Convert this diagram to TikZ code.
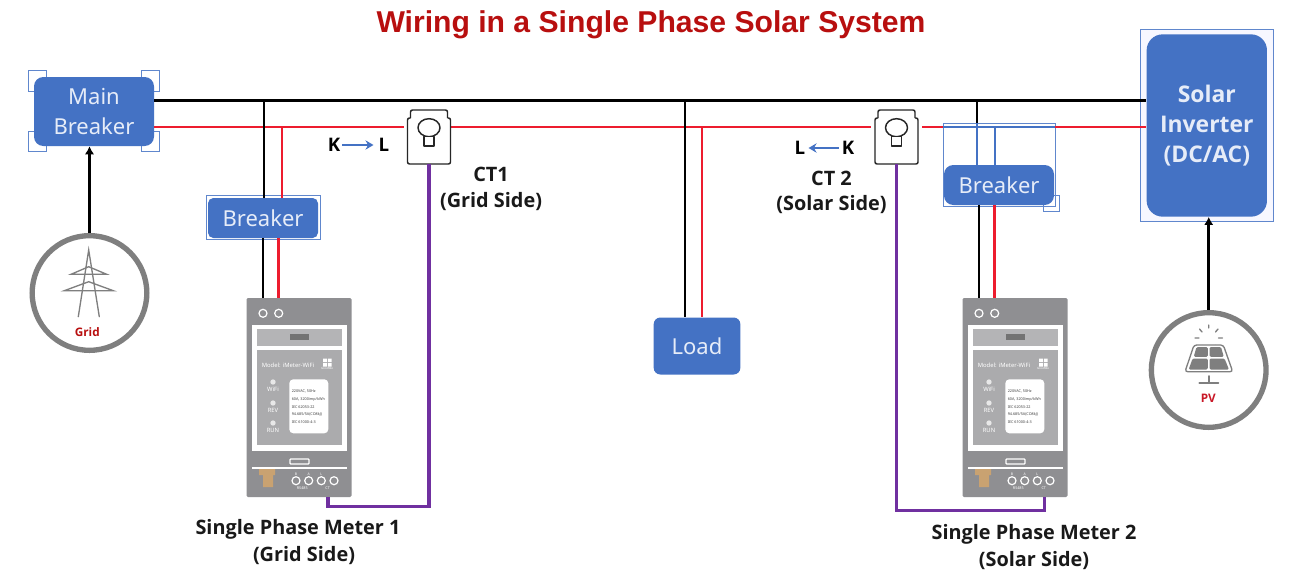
\documentclass[tikz,border=0pt]{standalone}
\usepackage{fontspec}
\setmainfont{Noto Sans}
\newfontfamily\titlefont{Liberation Sans}
\newfontfamily\boldfont{Open Sans}[BoldFont={Open Sans Bold}]
\usetikzlibrary{arrows.meta,calc,shapes.geometric}
\definecolor{boxblue}{HTML}{4472C4}
\definecolor{boxtext}{HTML}{E6ECF8}
\definecolor{wirered}{HTML}{ED1C2E}
\definecolor{wirepurple}{HTML}{7030A0}
\definecolor{titlered}{HTML}{B80F0F}
\definecolor{ringgray}{HTML}{7F7F7F}
\definecolor{metergray}{HTML}{8F8F92}
\definecolor{panelgray}{HTML}{B4B4B6}
\definecolor{panelgrayb}{HTML}{ABABAD}
\definecolor{iconsub}{HTML}{E8E8E8}
\definecolor{tan}{HTML}{C9A271}
\newcommand{\fs}[1]{\fontsize{#1}{#1}\selectfont}
\tikzset{
  bluebox/.style={draw=none,fill=boxblue,text=boxtext,rounded corners=7pt,align=center,inner sep=0pt,font=\fs{16.5}},
  selframe/.style={draw=boxblue!85!white,line width=0.6pt},
  blackwire/.style={draw=black,line width=1.6pt},
  redwire/.style={draw=wirered,line width=1.9pt},
  blueline/.style={draw=boxblue,line width=1.8pt},
  purplewire/.style={draw=wirepurple,line width=2.8pt,line join=miter},
  feed/.style={draw=black,line width=2.2pt,-{Latex[length=6pt,width=7pt]}},
  ring/.style={circle,draw=ringgray,line width=4pt,fill=white,minimum size=86pt,inner sep=0pt},
  label/.style={font=\boldfont\fs{14.9}\bfseries,text=black!90,align=center,inner sep=0pt},
  kl/.style={font=\boldfont\fs{14}\bfseries,text=black,inner sep=0pt},
  klarrow/.style={draw=boxblue,line width=2.2pt,-{Stealth[length=6pt,width=7pt]}},
  icon/.style={draw=ringgray,line width=1pt,line cap=round},
  tiny/.style={inner sep=0pt,text=white,font=\fs{4.4}},
  micro/.style={inner sep=0pt,text=black!75,font=\fs{2.8}},
  led/.style={circle,fill=iconsub,draw=none,minimum size=4pt,inner sep=0pt},
  hole/.style={circle,draw=white,line width=0.9pt,minimum size=6pt,inner sep=0pt},
  ctline/.style={draw=black!85,line width=1.1pt,line join=round},
}
% #1 node-name prefix
\newcommand{\drawmeter}[1]{%
  \node[draw=none,fill=metergray,rounded corners=1pt,minimum width=78.75pt,minimum height=149.25pt,inner sep=0pt] (#1) at (299,397.5) {};
  \node[hole] (#1t1) at (263,313.3) {};
  \node[hole] (#1t2) at (278.7,313.3) {};
  \fill[white] (252,325) rectangle (346.7,450.7);
  \fill[panelgray] (256.7,329) rectangle (341.7,346);
  \fill[black!55] (290,334) rectangle (309,340);
  \fill[panelgrayb] (256.7,350) rectangle (341.7,445);
  \node[tiny] at (288,365) {Model: iMeter-WiFi};
  \fill[white] (323,358.5) rectangle (326.8,362) (327.8,358.5) rectangle (331.5,362) (323,363) rectangle (326.8,366.5) (327.8,363) rectangle (331.5,366.5);
  \node[tiny,font=\fs{2.2}] at (327,368.5) {GoodWe};
  \node[led] at (273,382) {};
  \node[led] at (273,403) {};
  \node[led] at (273,423) {};
  \node[tiny] at (273,389.5) {WiFi};
  \node[tiny] at (273,410) {REV};
  \node[tiny] at (273,430.5) {RUN};
  \fill[white,rounded corners=3pt] (289.3,379.3) rectangle (328.3,433.3);
  \node[micro,anchor=west] at (291.5,391.5) {220VAC, 50Hz};
  \node[micro,anchor=west] at (291.5,400) {60A, 3200imp/kWh};
  \node[micro,anchor=west] at (291.5,407.5) {IEC 62053-22};
  \node[micro,anchor=west] at (291.5,414.5) {94.685/5A(CO8kJ)};
  \node[micro,anchor=west] at (291.5,422.5) {IEC 61000-4-3};
  \draw[white,line width=0.9pt,rounded corners=0.6pt] (290,459) rectangle (309,464);
  \draw[white,line width=1pt] (252,468) -- (346.7,468);
  \fill[tan] (259,469) -- (275,469) -- (275,475) -- (273,475) -- (273,487) -- (263,487) -- (263,475) -- (259,475) -- cycle;
  \node[hole] (#1c1) at (296,480.7) {};
  \node[hole] (#1c2) at (308.7,480.7) {};
  \node[hole] (#1c3) at (321.3,480.7) {};
  \node[hole] (#1c4) at (334,480.7) {};
  \node[tiny,font=\fs{2.6}] at (296,474) {B};
  \node[tiny,font=\fs{2.6}] at (308.7,474) {A};
  \node[tiny,font=\fs{2.6}] at (321.3,474) {L};
  \node[tiny,font=\fs{2.8}] at (302.3,488.5) {RS485};
  \node[tiny,font=\fs{2.8}] at (327.7,488.5) {CT};
}
% #1 node name ; #2 clamp centre x
\newcommand{\drawct}[2]{%
  \begin{scope}[shift={(#2,0)}]
    \fill[white] (-21.5,110) rectangle (21.5,164);
    \draw[ctline,rounded corners=1.5pt] (-18.5,118) -- (-18.5,110) -- (18.5,110) -- (18.5,118);
    \draw[ctline,rounded corners=1.5pt] (-18.5,118) -- (-21.5,118) -- (-21.5,164) -- (21.5,164) -- (21.5,118) -- (18.5,118);
    \node[ellipse,ctline,fill=white,minimum width=16.5pt,minimum height=13.5pt,inner sep=0pt] (#1) at (0,127.7) {};
    \draw[ctline,fill=white] (-5,136.7) rectangle (5,146);
  \end{scope}
  \coordinate (#1out) at (#2,164);
}
\begin{document}
\begin{tikzpicture}[x=0.75pt,y=-0.75pt]
\useasboundingbox[fill=white] (0,0) rectangle (1312,575);
% ---- reference levels
\coordinate (busB) at (0,100.5);
\coordinate (busR) at (0,127);
\coordinate (tapB1) at (264,100.5);
\coordinate (tapR1) at (282,127);
\coordinate (tapBL) at (685,100.5);
\coordinate (tapRL) at (702,127);
\coordinate (tapB2) at (977,100.5);
\coordinate (tapB2b) at (977,123);
\coordinate (tapR2) at (995,127);
\coordinate (ct1L) at (404,127);
\coordinate (ct1R) at (440,127);
\coordinate (ct2L) at (871,127);
\coordinate (ct2R) at (922,127);
\coordinate (seg2a) at (943,127);
\coordinate (seg2b) at (1055,127);
% ---- frames and nodes
\draw[selframe] (46,77) -- (46,70) -- (28,70) -- (28,91) -- (34,91);
\draw[selframe] (141,77) -- (141,70) -- (159,70) -- (159,91) -- (154,91);
\draw[selframe] (34,131) -- (28,131) -- (28,151) -- (46,151) -- (46,146);
\draw[selframe] (154,131) -- (159,131) -- (159,151) -- (141,151) -- (141,146);
\node[bluebox,minimum width=90pt,minimum height=51.75pt] (mainbox) at (94,111.5) {Main\\[6pt]Breaker};
\draw[selframe] (206.5,195.5) rectangle (320,239.5);
\node[bluebox,rounded corners=4pt,minimum width=82.5pt,minimum height=30pt] (brk1) at (263,218) {Breaker};
\draw[selframe,fill=white] (1043,195) rectangle (1059,211);
\draw[selframe] (943,123) rectangle (1055,206);
\node[bluebox,minimum width=82.5pt,minimum height=30pt] (brk2) at (999,185) {Breaker};
\node[bluebox,font=\fs{16.5},minimum width=65pt,minimum height=42.75pt,rounded corners=5pt] (load) at (697,346) {Load};
\draw[selframe,fill=blue!3!white] (1140.7,29.3) rectangle (1273.3,221.7);
\node[bluebox,font=\boldfont\fs{17.2}\bfseries,rounded corners=12pt,minimum width=90.25pt,minimum height=136.75pt] (inv) at (1206.8,125.5) {Solar\\[5.6pt]Inverter\\[5.6pt](DC/AC)};
% ---- meters
\drawmeter{m1}
\begin{scope}[shift={(716,0)}]\drawmeter{m2}\end{scope}
% ---- rings
\node[ring] (grid) at (89.5,293) {};
\node[ring] (pv) at (1208.7,370) {};
% ---- wires
\draw[blackwire] (mainbox.east |- busB) -- (inv.west |- busB);
\draw[redwire] (mainbox.east |- busR) -- (ct1L);
\draw[redwire] (ct1R) -- (ct2L);
\draw[redwire] (ct2R) -- (seg2a);
\draw[redwire] (seg2b) -- (inv.west |- busR);
\draw[blackwire] (tapB1) -- (tapB1 |- brk1.north);
\draw[redwire] (tapR1) -- (tapR1 |- brk1.north);
\draw[blackwire] (m1t1 |- brk1.south) -- (m1t1 |- m1.north);
\draw[redwire] (m1t2 |- brk1.south) -- (m1t2 |- m1.north);
\draw[blackwire] (tapBL) -- (tapBL |- load.north);
\draw[redwire] (tapRL) -- (tapRL |- load.north);
\draw[blackwire] (tapB2) -- (tapB2b);
\draw[blueline] (tapB2b) -- (tapB2b |- brk2.north);
\draw[blueline] (tapR2) -- (tapR2 |- brk2.north);
\draw[blueline] (seg2a) -- (seg2b);
\draw[blackwire] (m2t1 |- brk2.south) -- (m2t1 |- m2.north);
\draw[redwire] (m2t2 |- brk2.south) -- (m2t2 |- m2.north);
\draw[feed] (grid.north) -- (grid.north |- mainbox.south);
\draw[feed] (pv.north) -- (pv.north |- inv.south);
% ---- current transformers
\drawct{ct1}{429}
\drawct{ct2}{896.5}
\coordinate (m1ct) at (328,497);
\coordinate (m2ct) at (1044.5,497);
\coordinate (pb1) at (328,506.5);
\coordinate (pb2) at (1044.5,510.5);
\draw[purplewire] (m1ct) -- (pb1) -- (pb1 -| ct1out) -- (ct1out);
\draw[purplewire] (m2ct) -- (pb2) -- (pb2 -| ct2out) -- (ct2out);
% ---- grid icon
\draw[icon] (78.3,316.7) -- (88.7,250) -- (99.3,316.7);
\draw[icon] (71,274.3) -- (106.7,274.3) -- (88.7,266.7) -- cycle;
\draw[icon] (64.3,290.7) -- (113.3,290.7) -- (88.7,281.7) -- cycle;
\node[inner sep=0pt,text=titlered,font=\boldfont\fs{8.8}\bfseries] (gridt) at (87.3,332) {Grid};
% ---- PV icon
\draw[ringgray,line width=1pt] (1201.7,345) arc[start angle=180,end angle=0,radius=7];
\draw[icon] (1195,338) -- (1199,338) (1218.5,338) -- (1222.5,338) (1199.5,329) -- (1202,332) (1218,329) -- (1215.5,332) (1208.7,325) -- (1208.7,328);
\draw[icon,fill=white,rounded corners=2pt] (1194,345) -- (1223.3,345) -- (1232.7,371.7) -- (1185,371.7) -- cycle;
\fill[ringgray,rounded corners=1pt] (1196.5,347) -- (1207.8,347) -- (1207.8,356.8) -- (1193.7,356.8) -- cycle;
\fill[ringgray,rounded corners=1pt] (1209.6,347) -- (1221,347) -- (1223.8,356.8) -- (1209.6,356.8) -- cycle;
\fill[ringgray,rounded corners=1pt] (1192.6,358.5) -- (1207.8,358.5) -- (1207.8,369.5) -- (1188.6,369.5) -- cycle;
\fill[ringgray,rounded corners=1pt] (1209.6,358.5) -- (1224.5,358.5) -- (1229,369.5) -- (1209.6,369.5) -- cycle;
\draw[icon,line width=1.4pt] (1208.7,376) -- (1208.7,382) (1199.3,382.7) -- (1218.3,382.7);
\node[inner sep=0pt,text=wirered!85!black,font=\boldfont\fs{8.8}\bfseries] (pvt) at (1208.3,398) {PV};
% ---- texts
\node[inner sep=0pt,text=titlered,font=\titlefont\fs{22.6}\bfseries] (title) at (651,25) {Wiring in a Single Phase Solar System};
\node[kl] (k1) at (334,145) {K};
\node[kl] (l1) at (384,145) {L};
\draw[klarrow] (k1.east) ++(2,0) -- ($(l1.west)+(-5,0)$);
\node[kl] (l2) at (800,148) {L};
\node[kl] (k2) at (848,148) {K};
\draw[klarrow] (k2.west) ++(-3,0) -- ($(l2.east)+(3,0)$);
\node[label] (ct1t) at (491,189) {CT1\\[4.6pt](Grid Side)};
\node[label] (ct2t) at (831.5,192.5) {CT 2\\[4pt](Solar Side)};
\node[label] (m1t) at (298,529) {Single Phase Meter 1};
\node[label] (m1s) at (304,556) {(Grid Side)};
\node[label] (m2t) at (1034,534) {Single Phase Meter 2};
\node[label] (m2s) at (1034,560.5) {(Solar Side)};
\end{tikzpicture}
\end{document}
